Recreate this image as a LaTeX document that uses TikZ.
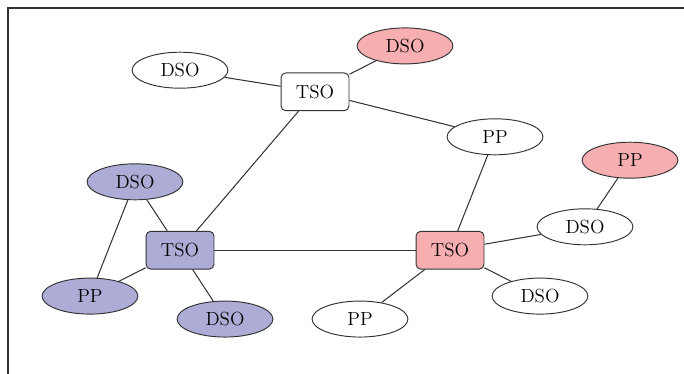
\documentclass[tikz,border=0pt]{standalone}
\usepackage{tikz}
\usetikzlibrary{shapes.geometric, positioning}

\definecolor{redfill}{RGB}{246,174,176}
\definecolor{bluefill}{RGB}{173,172,214}

\begin{document}
\begin{tikzpicture}[
    font=\large,
    every node/.style={inner sep=3pt},
    tso/.style={draw=black!80, fill=white, rounded corners=3pt, minimum width=1.51cm, minimum height=0.84cm, line width=0.6pt},
    dso/.style={draw=black!80, fill=white, ellipse, minimum width=2.13cm, minimum height=0.8cm, line width=0.6pt},
    link/.style={line width=0.65pt, draw=black!80},
    frame/.style={line width=1.2pt, draw=black!80}
  ]
  \useasboundingbox (0,0) rectangle (15.2,-8.311);

  % Frame
  \coordinate (fa) at (0.18,-8.311);
  \coordinate (fb) at (0.18,-0.18);
  \coordinate (fc) at (15.2,-0.18);
  \draw[frame] (fa) -- (fb) -- (fc);

  % Top cluster
  \node[tso] (tsoA) at (7.0,-2.04) {TSO};
  \node[dso] (dsoA) at (4.0,-1.56) {DSO};
  \node[dso, fill=redfill] (dsoB) at (9.0,-1.02) {DSO};
  \node[dso] (ppA) at (11.0,-3.04) {PP};

  % Right cluster
  \node[tso, fill=redfill] (tsoR) at (10.0,-5.56) {TSO};
  \node[dso, fill=redfill] (ppB) at (14.0,-3.56) {PP};
  \node[dso] (dsoC) at (13.0,-5.04) {DSO};
  \node[dso] (dsoD) at (12.0,-6.58) {DSO};
  \node[dso] (ppC) at (8.0,-7.09) {PP};

  % Left cluster
  \node[tso, fill=bluefill] (tsoB) at (4.0,-5.56) {TSO};
  \node[dso, fill=bluefill] (dsoE) at (3.0,-4.04) {DSO};
  \node[dso, fill=bluefill] (ppD) at (2.0,-6.58) {PP};
  \node[dso, fill=bluefill] (dsoF) at (5.0,-7.09) {DSO};

  % Links
  \draw[link] (tsoA) -- (dsoA);
  \draw[link] (tsoA) -- (dsoB);
  \draw[link] (tsoA) -- (ppA);
  \draw[link] (tsoA) -- (tsoB);
  \draw[link] (ppA) -- (tsoR);
  \draw[link] (tsoB) -- (tsoR);
  \draw[link] (tsoR) -- (dsoC);
  \draw[link] (dsoC) -- (ppB);
  \draw[link] (tsoR) -- (dsoD);
  \draw[link] (tsoR) -- (ppC);
  \draw[link] (tsoB) -- (dsoE);
  \draw[link] (tsoB) -- (ppD);
  \draw[link] (tsoB) -- (dsoF);
  \draw[link] (dsoE) -- (ppD);

\end{tikzpicture}
\end{document}
